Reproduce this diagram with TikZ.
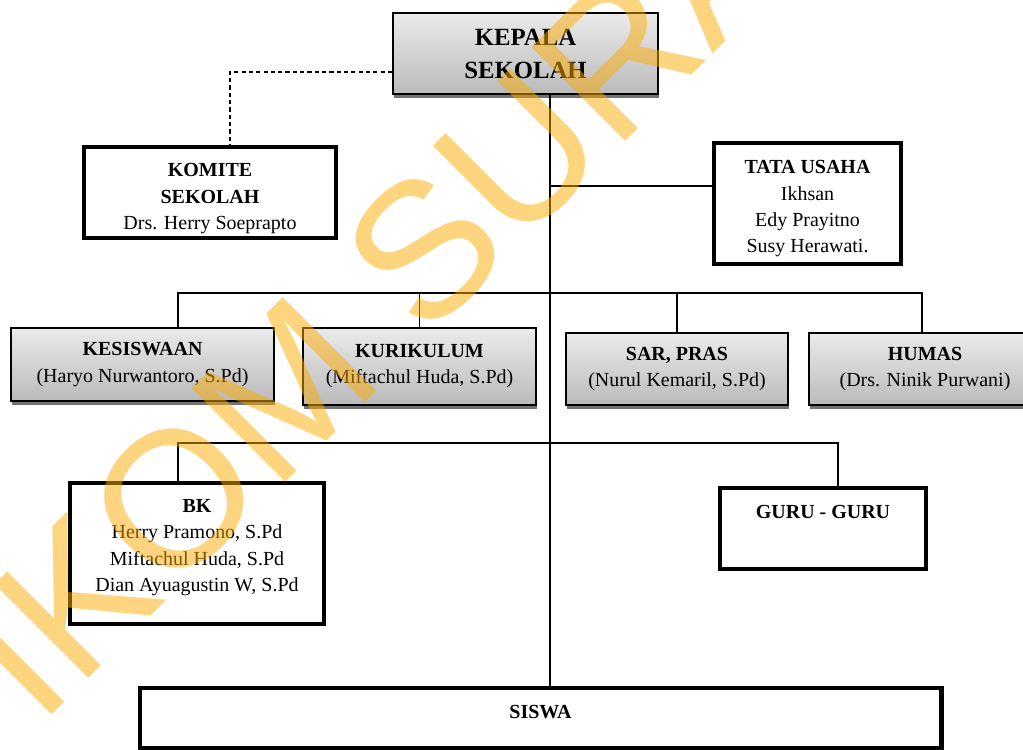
\documentclass[tikz,border=0pt]{standalone}
\usepackage{fontspec}
\setmainfont{Liberation Serif}
\newfontfamily\wmfont{Liberation Sans}
\usetikzlibrary{shadows}
\definecolor{wmorange}{RGB}{252,171,0}

\begin{document}
\begin{tikzpicture}[x=0.025cm,y=-0.025cm]
	\tikzstyle{greybox}=[rectangle,draw=black,line width=1.3pt,top color=black!8,bottom color=black!27,drop shadow={shadow xshift=0.8pt,shadow yshift=-2.6pt,fill=black!55,opacity=1},inner sep=0pt,align=center,font=\fontsize{14.2}{18.6}\selectfont]
	\tikzstyle{thickbox}=[rectangle,draw=black,line width=3.4pt,fill=white,inner sep=0pt,align=center,font=\fontsize{14.2}{18.6}\selectfont]
	\tikzstyle{link}=[line width=1pt]
	\tikzstyle{wm}=[anchor=base west,rotate=45,inner sep=0pt,text=wmorange,text opacity=0.5,font=\wmfont\fontsize{137}{137}\selectfont]
	\useasboundingbox (0,0) rectangle (1023,749);
	\node[greybox,minimum width=6.625cm,minimum height=2.025cm,font=\bfseries\fontsize{17.6}{23.5}\selectfont] (kepala) at (525.5,53.5) {KEPALA\\SEKOLAH};
	\node[thickbox,minimum width=6.3cm,minimum height=2.275cm,text height=55.3pt] (komite) at (210,192.5) {\textbf{KOMITE}\\\textbf{SEKOLAH}\\Drs. Herry Soeprapto};
	\node[thickbox,minimum width=4.675cm,minimum height=3.025cm,text height=72.5pt] (tatausaha) at (807.5,203.5) {\textbf{TATA USAHA}\\Ikhsan\\Edy Prayitno\\Susy Herawati.};
	\node[greybox,minimum width=6.575cm,minimum height=1.825cm] (kesiswaan) at (142.5,364.5) {\textbf{KESISWAAN}\\(Haryo Nurwantoro, S.Pd)};
	\node[greybox,minimum width=5.825cm,minimum height=1.925cm] (kurikulum) at (419.5,366.5) {\textbf{KURIKULUM}\\(Miftachul Huda, S.Pd)};
	\node[greybox,minimum width=5.55cm,minimum height=1.8cm] (sarpras) at (677,369) {\textbf{SAR, PRAS}\\(Nurul Kemaril, S.Pd)};
	\node[greybox,minimum width=5.8cm,minimum height=1.8cm] (humas) at (925,369) {\textbf{HUMAS}\\(Drs. Ninik Purwani)};
	\node[thickbox,minimum width=6.35cm,minimum height=3.525cm,text height=56.8pt] (bk) at (197,553.5) {\textbf{BK}\\Herry Pramono, S.Pd\\Miftachul Huda, S.Pd\\Dian Ayuagustin W, S.Pd};
	\node[thickbox,minimum width=5.15cm,minimum height=2.025cm,text depth=24.3pt,font=\bfseries\fontsize{14.2}{18.6}\selectfont] (guru) at (823,528.5) {GURU - GURU};
	\node[thickbox,minimum width=20.025cm,minimum height=1.5cm,text depth=8.7pt,font=\bfseries\fontsize{14.2}{18.6}\selectfont] (siswa) at (540.5,718) {SISWA};
	\coordinate (trunk) at (550,0);
	\coordinate (dash) at (230,72);
	\coordinate (tu) at (550,186);
	\coordinate (b1) at (178,293);
	\coordinate (b2) at (922,293);
	\coordinate (c1) at (178,443);
	\coordinate (c2) at (838,443);
	\draw[link] (kepala.south -| trunk) -- (siswa.north -| trunk);
	\draw[link,dash pattern=on 3pt off 2.2pt] (kepala.west |- dash) -- (dash) -- (komite.north -| dash);
	\draw[link] (tu) -- (tatausaha.west |- tu);
	\draw[link] (kesiswaan.north -| b1) -- (b1) -- (b2) -- (humas.north -| b2);
	\draw[link] (kurikulum.north) -- (kurikulum.north |- b1);
	\draw[link] (sarpras.north) -- (sarpras.north |- b1);
	\draw[link] (bk.north -| c1) -- (c1) -- (c2) -- (guru.north -| c2);
	\node[wm] (wm) at (-135,902) {STIKOM SURABAYA};
\end{tikzpicture}
\end{document}
